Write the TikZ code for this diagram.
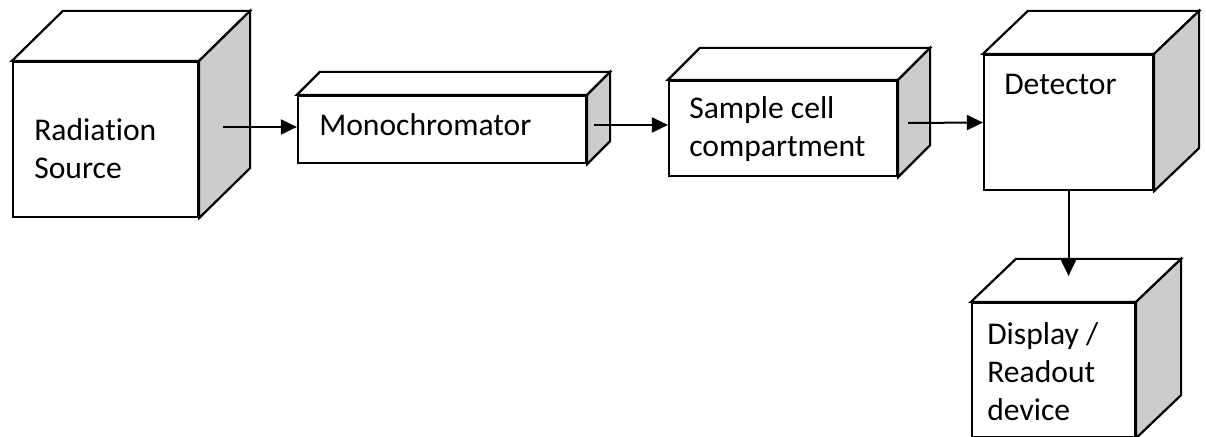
\documentclass[tikz,border=0pt]{standalone}
\usepackage{fontspec}
\setmainfont{Carlito}[Ligatures=NoCommon]
\usetikzlibrary{arrows.meta}

\tikzset{
	box/.style={draw, fill=white, line width=1.1pt, inner sep=0pt},
	face/.style={draw, fill=white, line width=1.1pt, line join=miter},
	lbl/.style={anchor=base west, inner sep=0pt, align=left,
		font=\fontsize{15.8pt}{19pt}\selectfont},
	flow/.style={line width=1pt, -{Triangle[length=8pt,width=7.5pt]}}
}

% top and side faces of a box node, #2/#3 = depth to the right / upwards
\newcommand{\boxdepth}[3]{%
	\draw[face] (#1.north west) -- ++(#2,-#3) -- ([shift={(#2,-#3)}]#1.north east) -- (#1.north east) -- cycle;
	\draw[face, fill=black!20] (#1.north east) -- ([shift={(#2,-#3)}]#1.north east) -- ([shift={(#2,-#3)}]#1.south east) -- (#1.south east) -- cycle;
}

\begin{document}
\begin{tikzpicture}[x=0.5pt, y=-0.5pt]
		\useasboundingbox (0,0) rectangle (1206,437);
		\node[box, minimum width=92.5pt, minimum height=77.5pt] (src) at (105.5,139.5) {};
		\node[box, minimum width=144pt, minimum height=33.5pt] (mono) at (442,129.5) {};
		\node[box, minimum width=114pt, minimum height=47.5pt] (smp) at (783,128.5) {};
		\node[box, minimum width=84.5pt, minimum height=67.5pt] (det) at (1068.5,122.5) {};
		\node[box, minimum width=81.5pt, minimum height=67pt] (disp) at (1053.5,370) {};
		\boxdepth{src}{51}{50}
		\boxdepth{mono}{23}{23}
		\boxdepth{smp}{32}{32}
		\boxdepth{det}{45}{43}
		\boxdepth{disp}{45}{43}
		% labels (base = last line)
		\node[lbl] (srcLbl) at ([shift={(22,118)}]src.north west) {Radiation\\Source};
		\node[lbl] (monoLbl) at ([shift={(22,41)}]mono.north west) {Monochromator};
		\node[lbl] (smpLbl) at ([shift={(21,77)}]smp.north west) {Sample cell\\compartment};
		\node[lbl] (detLbl) at ([shift={(21,41)}]det.north west) {Detector};
		\node[lbl] (dispLbl) at ([shift={(16,119)}]disp.north west) {Display /\\Readout\\device};
		% beam path
		\coordinate (srcOut) at ([shift={(24,-12.5)}]src.east);
		\coordinate (monoOut) at ([shift={(7,-4.5)}]mono.east);
		\coordinate (smpOut) at ([shift={(10,-5.5)}]smp.east);
		\coordinate (dispIn) at ([shift={(15,-26)}]disp.north);
		\draw[flow] (srcOut) -- (srcOut -| mono.west);
		\draw[flow] (monoOut) -- (monoOut -| smp.west);
		\draw[flow] (smpOut) -- (det.west);
		\draw[flow] (det.south) -- (det.south |- dispIn);
		\end{tikzpicture}
\end{document}
